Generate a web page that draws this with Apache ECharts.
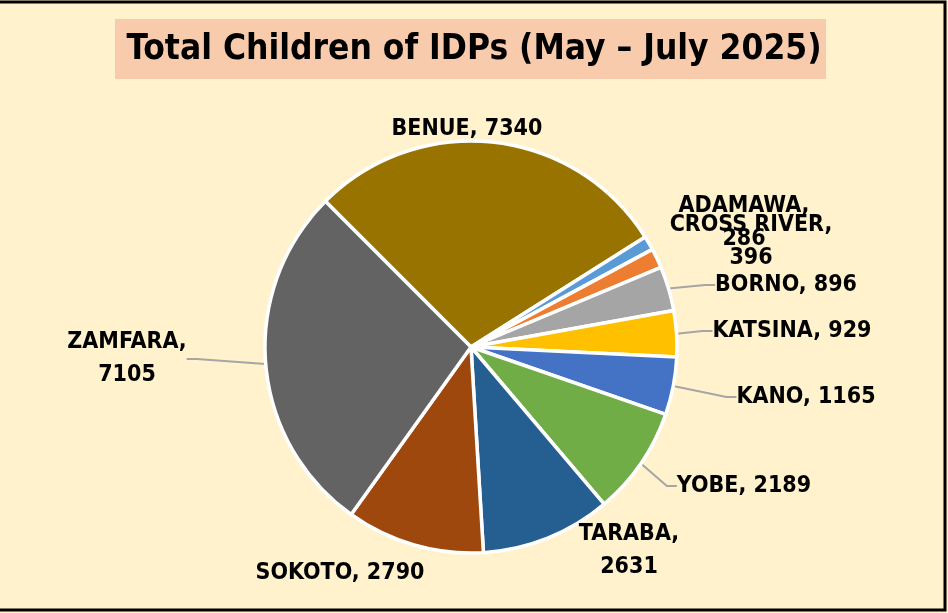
<!DOCTYPE html>
<html>
<head>
	<meta charset="utf-8">
	<title></title>
	<style type="text/css">
	html, body { margin: 0; padding: 0; background: #FFF2CC; }
	#chart { width: 948px; height: 613px; }
	</style>
</head>
<body>
	<div id="chart"></div>
	<script src="https://cdn.jsdelivr.net/npm/echarts@6/dist/echarts.min.js"></script>
	<script>
	// data
	var states = ['BENUE', 'ADAMAWA', 'CROSS RIVER', 'BORNO', 'KATSINA', 'KANO', 'YOBE', 'TARABA', 'SOKOTO', 'ZAMFARA'];
	var children = [7340, 286, 396, 896, 929, 1165, 2189, 2631, 2790, 7105];
	var colors = ['#997300', '#5B9BD5', '#ED7D31', '#A5A5A5', '#FFC000', '#4472C4', '#70AD47', '#255E91', '#9E480E', '#636363'];

	// label placement (centre x, y), wrapped or not, leader line shown or not
	var labelPos = [
		[467, 129, false, false],
		[744, 223, true, false],
		[751, 242, true, false],
		[786, 285, false, true],
		[792, 331, false, true],
		[806, 397, false, true],
		[744, 486, false, true],
		[629, 551, true, false],
		[340, 573, false, false],
		[127, 359, true, true]
	];

	var font = '"Liberation Sans Narrow", "DejaVu Sans Condensed", sans-serif';

	var pieData = states.map(function(s, i) {
		return {
			name: s,
			value: children[i],
			itemStyle: { color: colors[i] },
			label: {
				formatter: labelPos[i][2] ? '{b},\n{c}' : '{b}, {c}'
			},
			labelLine: { show: labelPos[i][3] }
		};
	});

	var myChart = echarts.init(document.getElementById('chart'));
	myChart.setOption({
		backgroundColor: '#FFF2CC',
		animation: false,
		graphic: [{
			type: 'rect',
			shape: { x: -6, y: 2, width: 951, height: 608 },
			style: { fill: 'none', stroke: '#000', lineWidth: 3 }
		}, {
			type: 'rect',
			shape: { x: 115, y: 19, width: 711, height: 60 },
			style: { fill: '#F8CBAD' },
			z: -1
		}],
		title: {
			text: 'Total Children of IDPs (May \u2013 July 2025)',
			left: 'center',
			top: 27,
			textStyle: {
				fontFamily: font,
				fontWeight: 'bold',
				fontSize: 35,
				color: '#000'
			}
		},
		series: [{
			type: 'pie',
			center: [471, 347],
			radius: 206,
			startAngle: 135,
			clockwise: true,
			data: pieData,
			itemStyle: { borderColor: '#fff', borderWidth: 3.5 },
			label: {
				show: true,
				position: 'outside',
				fontFamily: font,
				fontWeight: 'bold',
				fontSize: 23,
				lineHeight: 33,
				color: '#000',
				align: 'center'
			},
			labelLine: {
				show: true,
				length: 10,
				length2: 10,
				lineStyle: { color: '#A6A6A6', width: 2 }
			},
			labelLayout: function(params) {
				var p = labelPos[params.dataIndex];
				return { x: p[0], y: p[1], align: 'center', verticalAlign: 'middle', hideOverlap: false };
			}
		}]
	});
	</script>
</body>
</html>
